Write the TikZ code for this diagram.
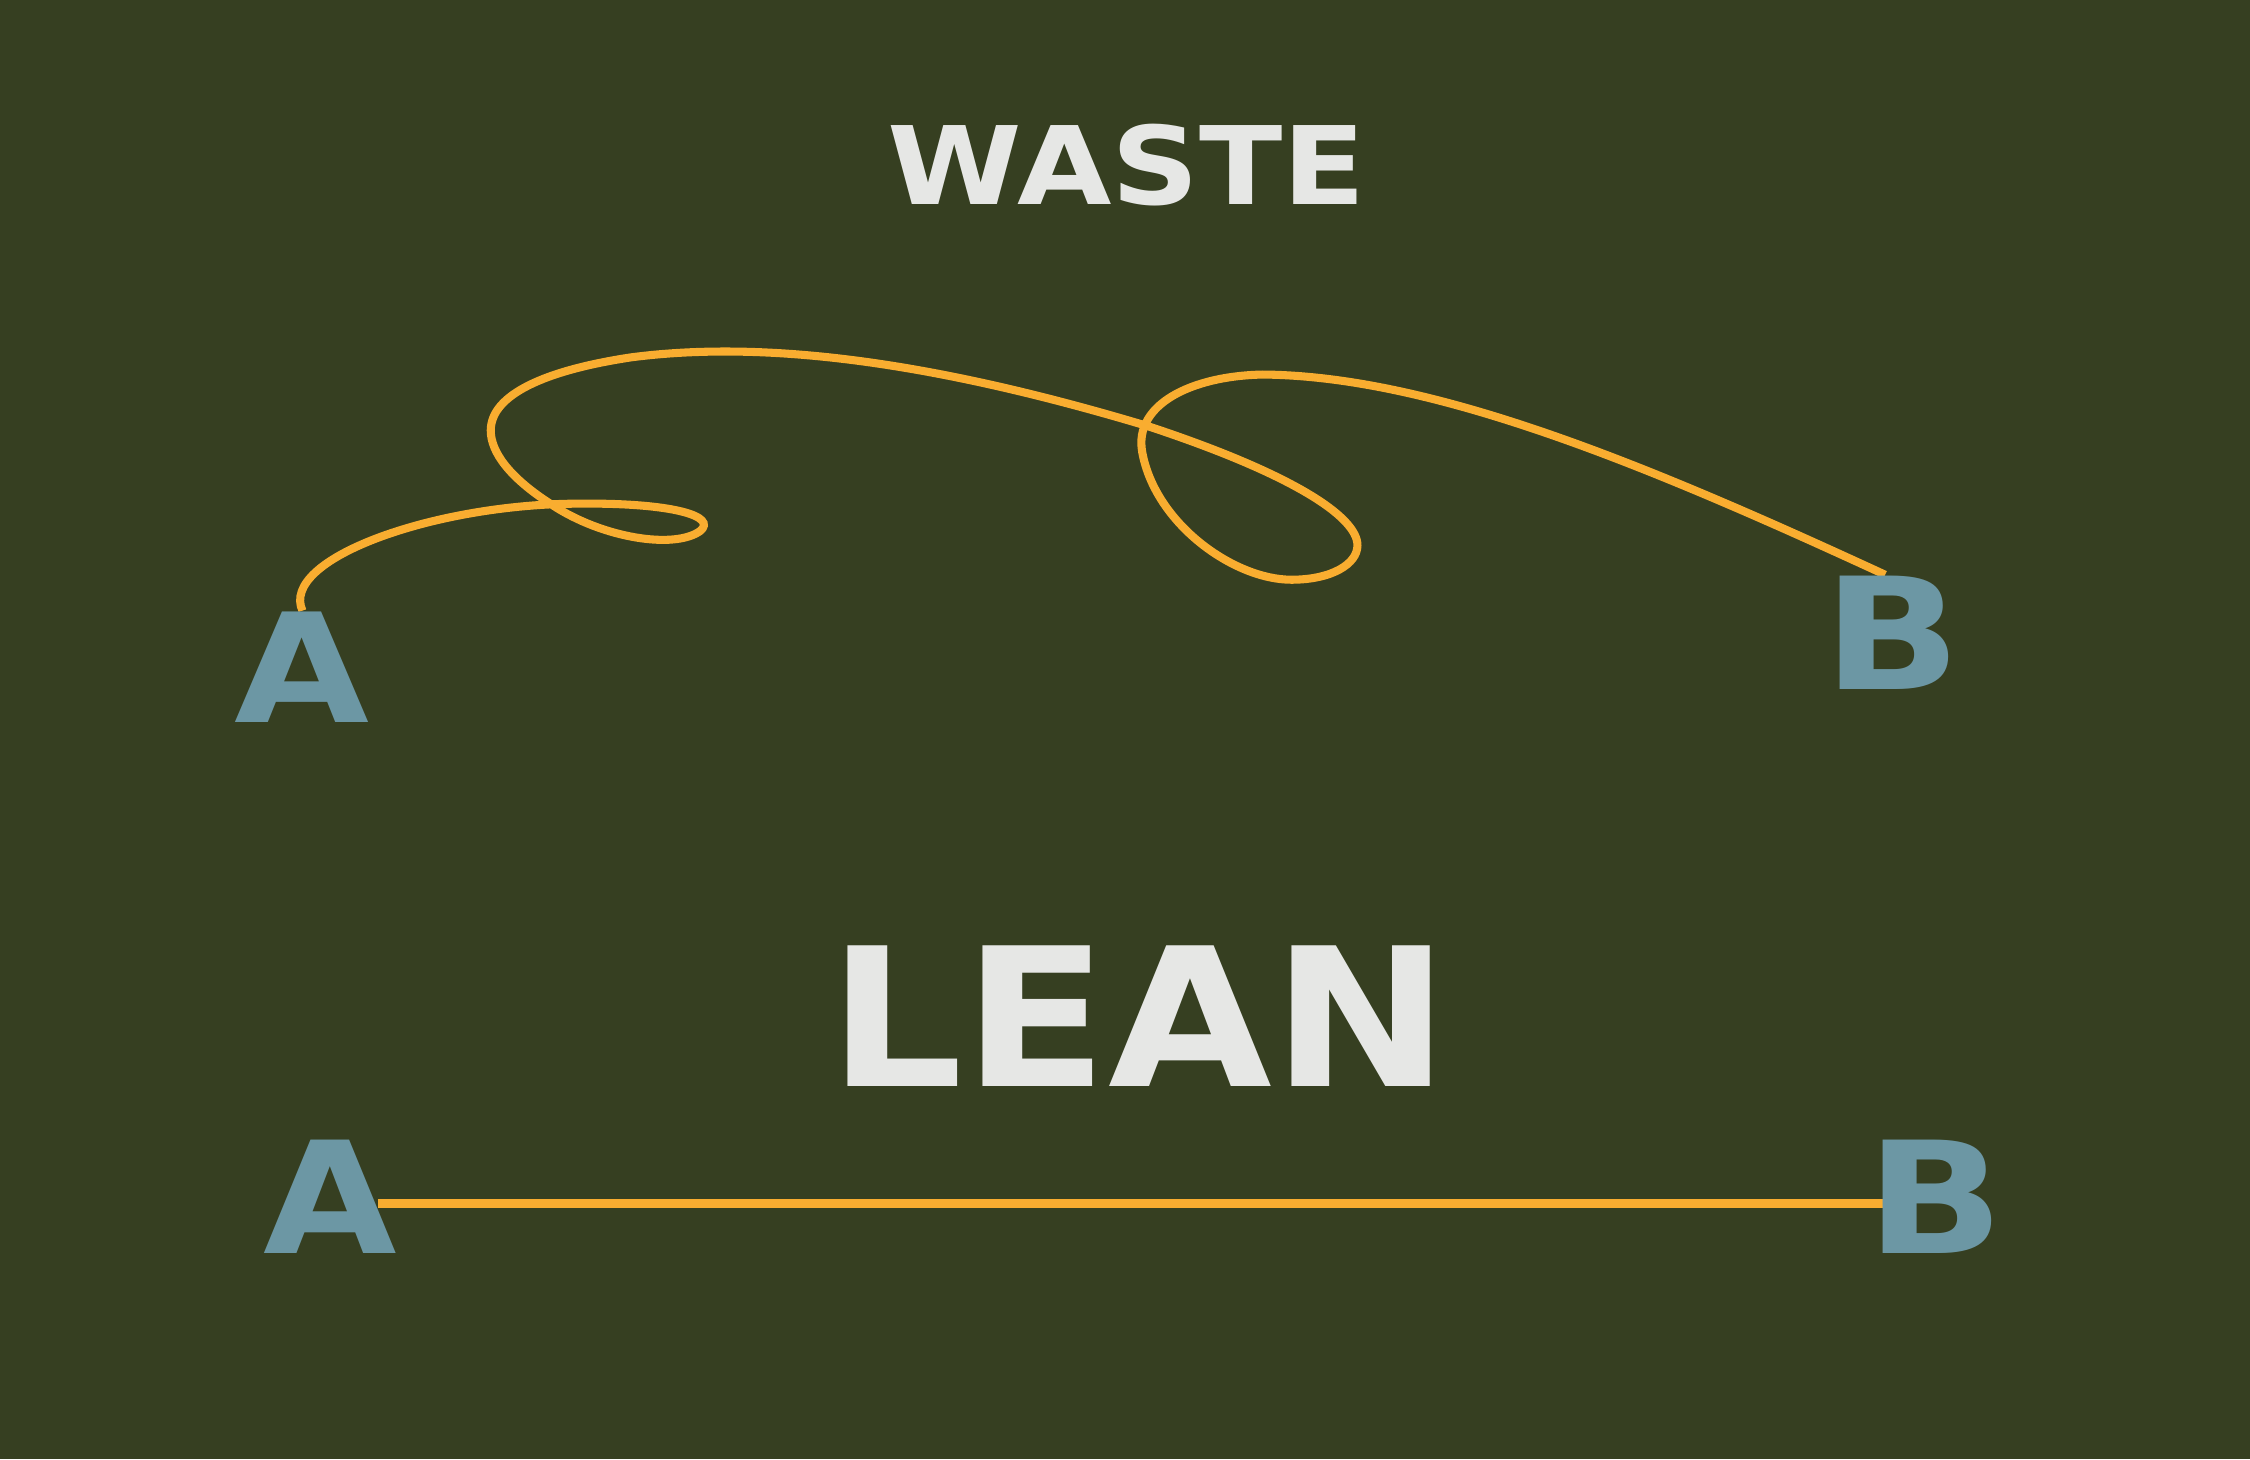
\documentclass[tikz,border=0pt]{standalone}
\usepackage{fontspec}
\setmainfont{DejaVu Sans}
\usepackage{graphicx}
\usetikzlibrary{calc}
\definecolor{olive}{HTML}{363F21}
\definecolor{rope}{HTML}{F9AD30}
\definecolor{slate}{HTML}{6C97A4}
\definecolor{chalk}{HTML}{E6E7E5}
\pgfdeclarelayer{back}
\pgfdeclarelayer{rope}
\pgfsetlayers{back,rope,main}
\newcommand{\fitword}[3]{\resizebox{#1}{#2}{\bfseries #3}}

\begin{document}
\begin{tikzpicture}[line cap=round,line join=round,x=0.01cm,y=-0.01cm,
  word/.style={inner sep=0,anchor=south west,text=chalk},
  point/.style={inner sep=0,anchor=south west,text=slate},
  path/.style={color=rope,line width=1.6pt}]
\begin{pgfonlayer}{back}
\fill [olive] (0,0) rectangle (1568,1017);
\end{pgfonlayer}
\useasboundingbox (0,0) rectangle (1568,1017);
\node [word] (waste) at (618,144) {\fitword{3.33cm}{0.56cm}{WASTE}};
\node [word] (lean) at (577,758) {\fitword{4.32cm}{0.98cm}{LEAN}};
\node [point] (a1) at (163,504) {\fitword{0.94cm}{0.77cm}{A}};
\node [point] (b1) at (1270,481) {\fitword{0.96cm}{0.79cm}{B}};
\node [point] (a2) at (183,874) {\fitword{0.93cm}{0.79cm}{A}};
\node [point] (b2) at (1300,874) {\fitword{0.96cm}{0.79cm}{B}};
\begin{pgfonlayer}{rope}
% the long way round
\draw [path] (a1.north) .. controls (195,390) and (300,352) .. (400,351)
  .. controls (470,350) and (500,360) .. (488,370)
  .. controls (470,383) and (420,375) .. (385,352)
  .. controls (355,333) and (342,315) .. (342,300)
  .. controls (342,275) and (380,258) .. (440,249)
  .. controls (540,236) and (660,255) .. (800,297)
  .. controls (900,330) and (946,360) .. (946,380)
  .. controls (946,393) and (928,404) .. (900,404)
  .. controls (860,404) and (805,365) .. (796,315)
  .. controls (790,282) and (830,262) .. (880,261)
  .. controls (1000,262) and (1150,325) .. ([xshift=-0.5mm]b1.north);
% the short way
\draw [path,line width=1.8pt,line cap=butt] ($(a2.east)+(-14,5)$) -- ($(b2.west)+(12,5)$);
\end{pgfonlayer}
\end{tikzpicture}
\end{document}
